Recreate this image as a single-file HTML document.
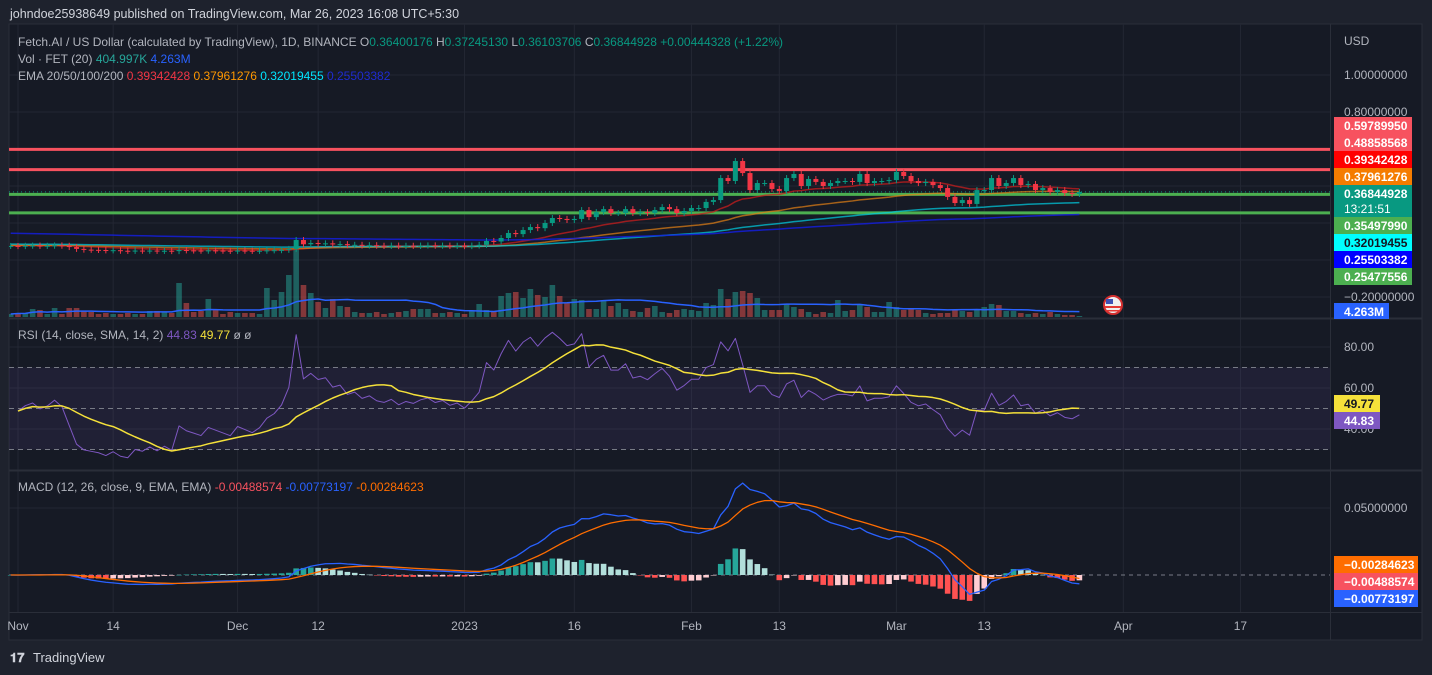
<!DOCTYPE html>
<html><head><meta charset="utf-8">
<style>
html,body{margin:0;padding:0;background:#1e222d;overflow:hidden}
svg{display:block;font-family:"Liberation Sans",sans-serif}
</style></head>
<body>
<svg id="c" width="1432" height="675" viewBox="0 0 1432 675" xmlns="http://www.w3.org/2000/svg">
<rect x="0" y="0" width="1432" height="675" fill="#1e222d"/>
<text x="10" y="18" fill="#d1d4dc" font-size="12.5">johndoe25938649 published on TradingView.com, Mar 26, 2023 16:08 UTC+5:30</text>
<rect x="9" y="24" width="1413" height="616" fill="#161a25" stroke="#2a2e39"/>
<g id="grid"></g>
<g id="main"></g>
<g id="rsi"></g>
<g id="macd"></g>
<line x1="9" y1="318.5" x2="1422" y2="318.5" stroke="#2a2e39" stroke-width="2"/>
<line x1="9" y1="470.5" x2="1422" y2="470.5" stroke="#2a2e39" stroke-width="2"/>
<line x1="9" y1="612.5" x2="1422" y2="612.5" stroke="#2a2e39"/>
<line x1="1330.5" y1="24" x2="1330.5" y2="640" stroke="#2a2e39"/>
<g id="axis"></g>
<g font-size="12">
<text x="18" y="46" fill="#b2b5be">Fetch.AI / US Dollar (calculated by TradingView), 1D, BINANCE  O<tspan fill="#089981">0.36400176</tspan>  H<tspan fill="#089981">0.37245130</tspan>  L<tspan fill="#089981">0.36103706</tspan>  C<tspan fill="#089981">0.36844928</tspan>  <tspan fill="#089981">+0.00444328 (+1.22%)</tspan></text>
<text x="18" y="63" fill="#b2b5be">Vol · FET (20)  <tspan fill="#26a69a">404.997K</tspan>  <tspan fill="#2962ff">4.263M</tspan></text>
<text x="18" y="80" fill="#b2b5be">EMA 20/50/100/200  <tspan fill="#f23645">0.39342428</tspan>  <tspan fill="#ff9800">0.37961276</tspan>  <tspan fill="#00e5ff">0.32019455</tspan>  <tspan fill="#1e2bd0">0.25503382</tspan></text>
<text x="18" y="339" fill="#b2b5be">RSI (14, close, SMA, 14, 2)  <tspan fill="#7e57c2">44.83</tspan>  <tspan fill="#f5e13a">49.77</tspan>  <tspan fill="#b2b5be">ø  ø</tspan></text>
<text x="18" y="491" fill="#b2b5be">MACD (12, 26, close, 9, EMA, EMA)  <tspan fill="#f7525f">-0.00488574</tspan>  <tspan fill="#2962ff">-0.00773197</tspan>  <tspan fill="#ff6d00">-0.00284623</tspan></text>
</g>
<g>
<text x="10" y="662" fill="#d1d4dc" font-size="13" font-weight="bold">𝟏𝟕</text>
<text x="33" y="662" fill="#d1d4dc" font-size="13">TradingView</text>
</g>
<g>
<circle cx="1113" cy="305" r="9" fill="#f0f0f0" stroke="#d32f2f" stroke-width="2"/>
<rect x="1106" y="299" width="7" height="5" fill="#3f51b5"/>
<rect x="1105" y="306" width="16" height="2" fill="#e53935"/>
<rect x="1106" y="310" width="14" height="1.5" fill="#e53935"/>
</g>
</svg>
<script>
// Daily closes from Oct 31 2022 (index 0) to Mar 26 2023
const closes=[.076,.075,.077,.078,.076,.077,.079,.077,
.070,.060,.056,.055,
.054,.052,.053,.050,.049,.051,.050,.051,.049,.050,.048,
.054,
.052,.051,.050,.052,.051,.050,.049,.051,.050,.049,.050,.052,.053,.055,.060,
.108,
.085,.092,.088,.090,.084,.086,.080,.082,.078,.080,.077,.076,.078,.075,.077,.076,.078,.079,.077,.078,.076,.077,.075,.078,.082,
.103,.100,.119,.146,
.140,.162,.178,.172,.200,.227,.222,.216,.222,.270,.232,.259,.275,.254,.254,.275,.254,.259,.254,.270,.286,.275,.254,.265,.281,.281,
.314,.324,.443,.427,.535,.470,.378,.416,.416,.384,.373,.443,.465,.400,.438,.422,.400,.416,.427,.427,.422,.465,.416,.427,.427,.432,.476,.454,.427,.416,.422,.405,.389,.341,.308,.324,.303,.378,.378,.443,.400,.416,.443,.405,.411,.378,.389,.368,.378,.362,.357,.368];
const volumes=[3,4,4,8,7,3,9,3, 9,9,6,5, 3,4,3,3,4,3,3,6,6,5,4, 34, 14,5,6,18,7,3,5,4,4,4,3, 29,17,25,42, 70, 32,24,15,9,18,11,10,
5,4,4,5,3,4,5,6,8,8,8,4,4,5,4,3,6,13, 7,5,
21,24,25,19,28,22,20,32,21,14,18,17,8,8,16,11,14,8,6,5,9,11,5,4,7,
8,7,6,14,12,28,18,25,26,24,19,7,7,7,13,10,8,5,3,5,4,17,6,7,13,10,5,5,15,10,7,9,7,4,3,4,4,7,6,5,7,10,13,12,6,6,4,3,4,3,5,3,2,2,1];
const timeLabels=["Nov","14","Dec","12","2023","16","Feb","13","Mar","13","Apr","17"];
const timeDays=[0,13,30,41,61,76,92,104,120,132,151,167];
const priceTicks=[1.0,0.8,0.6,0.4,0.2,0.0,-0.2];
const priceTickLabels=["1.00000000","0.80000000","","","","","−0.20000000"];
const levelLines=[0.5979,0.4886,0.355,0.2548];
const levelColors=["#f7525f","#f7525f","#4caf50","#4caf50"];
const rsiTicks=[80,60,40];
const emaSeeds=[0.077,0.080,0.086,0.145];

const NS="http://www.w3.org/2000/svg";
function mk(parent,tag,attrs){const e=document.createElementNS(NS,tag);for(const k in attrs)e.setAttribute(k,attrs[k]);parent.appendChild(e);return e;}
const xOf=i=>18+7.32*(i-1);
const dayX=d=>18+7.32*d;
const yP=p=>75+(1-p)*185;
const yR=v=>347+(80-v)*2.05;
const yM=v=>575-v*1340;
const yV=v=>317-v;
const grid=document.getElementById('grid'),main=document.getElementById('main'),rsiG=document.getElementById('rsi'),macdG=document.getElementById('macd'),axis=document.getElementById('axis');

const defs=mk(document.getElementById('c'),'defs',{});
const cp=mk(defs,'clipPath',{id:'mainclip'});mk(cp,'rect',{x:9,y:24,width:1321,height:294});
main.setAttribute('clip-path','url(#mainclip)');

timeDays.forEach((d,k)=>{
  const l=mk(grid,'line',{x1:dayX(d),y1:24,x2:dayX(d),y2:612,stroke:'#232733'});
  
  const t=mk(axis,'text',{x:dayX(d),y:630,fill:'#b2b5be','font-size':12,'text-anchor':'middle'});
  t.textContent=timeLabels[k];
  
});
priceTicks.forEach((p,k)=>{
  const l=mk(grid,'line',{x1:9,y1:yP(p),x2:1330,y2:yP(p),stroke:'#232733'});
  
  if(priceTickLabels[k]){const t=mk(axis,'text',{x:1344,y:yP(p)+4,fill:'#b2b5be','font-size':12});t.textContent=priceTickLabels[k];
  }
});
{const t=mk(axis,'text',{x:1344,y:45,fill:'#b2b5be','font-size':12});t.textContent='USD';}

const n=closes.length;
for(let i=0;i<n;i++){
  const o=i?closes[i-1]:closes[i],up=closes[i]>=o;
  const r=mk(main,'rect',{x:xOf(i)-2.8,y:yV(volumes[i]),width:5.6,height:volumes[i],fill:up?'rgba(38,166,154,0.5)':'rgba(239,83,80,0.5)'});
  
}
function poly(g,pts,color,w,name){const p=mk(g,'polyline',{points:pts.join(' '),fill:'none',stroke:color,'stroke-width':w,'stroke-linejoin':'round'});return p;}
{const pts=[];for(let i=0;i<n;i++){const s=volumes.slice(Math.max(0,i-19),i+1);const m=s.reduce((a,b)=>a+b,0)/s.length;pts.push(xOf(i)+','+yV(m));}poly(main,pts,'#2962ff',1.5,'volume-ma-line');}

levelLines.forEach((p,k)=>{const l=mk(main,'line',{x1:9,y1:yP(p),x2:1330,y2:yP(p),stroke:levelColors[k],'stroke-width':3});});
{const l=mk(main,'line',{x1:9,y1:yP(closes[n-1]),x2:1330,y2:yP(closes[n-1]),stroke:'#089981','stroke-dasharray':'1 3'});}

const emaPeriods=[20,50,100,200],emaColors=['rgba(200,30,30,0.75)','rgba(230,130,20,0.7)','rgba(0,210,230,0.7)','rgba(20,30,220,0.85)'];
emaPeriods.forEach((per,k)=>{let e=emaSeeds[k];const a=2/(per+1);const pts=[];for(let i=0;i<n;i++){e=e+a*(closes[i]-e);pts.push(xOf(i)+','+yP(e));}poly(main,pts,emaColors[k],1.5,'ema-'+per+'-line');});

for(let i=0;i<n;i++){
  const o=i?closes[i-1]:closes[i],c=closes[i],up=c>=o,col=up?'#089981':'#f23645';
  const top=yP(Math.max(o,c)),bot=yP(Math.min(o,c));
  const w=mk(main,'line',{x1:xOf(i),y1:top-3,x2:xOf(i),y2:bot+3,stroke:col});
  const b=mk(main,'rect',{x:xOf(i)-2.5,y:top,width:5,height:Math.max(1,bot-top),fill:col});
}

// RSI (Wilder smoothing, seeded at neutral)
{
  const band=mk(rsiG,'rect',{x:9,y:yR(70),width:1321,height:yR(30)-yR(70),fill:'rgba(126,87,194,0.1)'});
  [70,50,30].forEach(v=>{const l=mk(rsiG,'line',{x1:9,y1:yR(v),x2:1330,y2:yR(v),stroke:'#787b86','stroke-dasharray':'5 4'});});
  rsiTicks.forEach(v=>{const l=mk(grid,'line',{x1:9,y1:yR(v),x2:1330,y2:yR(v),stroke:'#232733'});
    const t=mk(axis,'text',{x:1344,y:yR(v)+4,fill:'#b2b5be','font-size':12});t.textContent=v.toFixed(2);});
  const rsi=[];let ag=0.0015,al=0.0015;
  for(let i=1;i<n;i++){const ch=closes[i]-closes[i-1],g=Math.max(ch,0),l=Math.max(-ch,0);
    ag=(ag*13+g)/14;al=(al*13+l)/14;
    rsi[i]=al===0?100:100-100/(1+ag/al);}
  const pts=[],spts=[];
  for(let i=1;i<n;i++){pts.push(xOf(i)+','+yR(rsi[i]));
    const s=rsi.slice(Math.max(1,i-13),i+1);spts.push(xOf(i)+','+yR(s.reduce((a,b)=>a+b,0)/s.length));}
  poly(rsiG,pts,'#7e57c2',1,'rsi-line');poly(rsiG,spts,'#f5e13a',1.5,'rsi-sma-line');
}

{
  const z=mk(macdG,'line',{x1:9,y1:yM(0),x2:1330,y2:yM(0),stroke:'#787b86','stroke-dasharray':'4 4'});
  {const l=mk(grid,'line',{x1:9,y1:yM(0.05),x2:1330,y2:yM(0.05),stroke:'#232733'});
   const t=mk(axis,'text',{x:1344,y:yM(0.05)+4,fill:'#b2b5be','font-size':12});t.textContent='0.05000000';}
  let e12=closes[0],e26=closes[0],sig=0;const m=[],s=[],h=[];
  for(let i=0;i<n;i++){e12+=2/13*(closes[i]-e12);e26+=2/27*(closes[i]-e26);m[i]=e12-e26;sig+=0.2*(m[i]-sig);s[i]=sig;h[i]=m[i]-sig;}
  for(let i=0;i<n;i++){const v=h[i],prev=i?h[i-1]:0;let col;
    if(v>=0)col=v>=prev?'#26a69a':'#b2dfdb';else col=v<prev?'#ff5252':'#ffcdd2';
    const y0=yM(0),y1=yM(v);const r=mk(macdG,'rect',{x:xOf(i)-2.8,y:Math.min(y0,y1),width:5.6,height:Math.max(0.5,Math.abs(y1-y0)),fill:col});
    }
  poly(macdG,m.map((v,i)=>xOf(i)+','+yM(v)),'#2962ff',1.3,'macd-line');
  poly(macdG,s.map((v,i)=>xOf(i)+','+yM(v)),'#ff6d00',1.3,'signal-line');
}

function tag(y,h,w,bg,fg,txt,name){
  const r=mk(axis,'rect',{x:1334,y:y,width:w,height:h,fill:bg});
  txt.forEach((t,k)=>{const e=mk(axis,'text',{x:1344,y:y+13+k*15,fill:fg,'font-size':12,'font-weight':k?'normal':'bold'});e.textContent=t;});
}
tag(117,17,78,'#f7525f','#fff',['0.59789950'],'level-tag');
tag(134,17,78,'#f7525f','#fff',['0.48858568'],'level-tag');
tag(151,17,78,'#ff0000','#fff',['0.39342428'],'ema20-tag');
tag(168,17,78,'#f57c00','#fff',['0.37961276'],'ema50-tag');
tag(185,32,78,'#089981','#fff',['0.36844928','13:21:51'],'last-price-tag');
tag(217,17,78,'#4caf50','#fff',['0.35497990'],'level-tag');
tag(234,17,78,'#00ffff','#131722',['0.32019455'],'ema100-tag');
tag(251,17,78,'#0000ff','#fff',['0.25503382'],'ema200-tag');
tag(268,17,78,'#4caf50','#fff',['0.25477556'],'level-tag');
tag(303,16,55,'#2962ff','#fff',['4.263M'],'volume-tag');
tag(395,17,46,'#f5e13a','#131722',['49.77'],'rsi-sma-tag');
tag(412,17,46,'#7e57c2','#fff',['44.83'],'rsi-tag');
tag(556,17,84,'#ff6d00','#fff',['−0.00284623'],'signal-tag');
tag(573,17,84,'#f7525f','#fff',['−0.00488574'],'histogram-tag');
tag(590,17,84,'#2962ff','#fff',['−0.00773197'],'macd-tag');
</script>
</body></html>
